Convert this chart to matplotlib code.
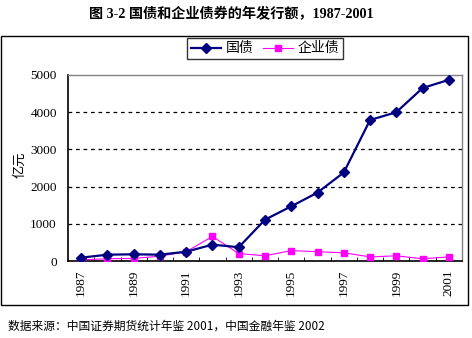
import matplotlib
matplotlib.use("Agg")
import matplotlib.pyplot as plt
from matplotlib.patches import Rectangle
import numpy as np

years = [str(y) for y in range(1987, 2002)]
gov_bonds = [90, 170, 180, 170, 250, 440, 370, 1110, 1470, 1840, 2380, 3790, 4000, 4650, 4870]
corp_bonds = [30, 60, 70, 130, 250, 660, 200, 140, 280, 250, 220, 110, 140, 60, 110]
yticks = [0, 1000, 2000, 3000, 4000, 5000]

title = "图 3-2 国债和企业债券的年发行额，1987-2001"
source = "数据来源：中国证券期货统计年鉴 2001，中国金融年鉴 2002"

W, H = 472, 338
fig = plt.figure(figsize=(W / 100, H / 100), dpi=100)
fig.patch.set_facecolor("white")

serif_cjk = ["Liberation Serif", "Noto Sans CJK SC"]
cjk = ["Noto Sans CJK SC", "DejaVu Sans"]

# outer chart frame
fig.patches.append(Rectangle((1 / W, 1 - 305 / H), 467 / W, 269 / H,
                             transform=fig.transFigure, fill=False,
                             edgecolor="black", linewidth=1.0))

ax = fig.add_axes([68 / W, 1 - 261 / H, (462 - 68) / W, (261 - 75) / H])
x = np.arange(len(years))
ax.plot(x, gov_bonds, color="#000080", linewidth=1.6, marker="D", markersize=5,
        label="国债", zorder=4)
ax.plot(x, corp_bonds, color="#FF00FF", linewidth=0.8, marker="s", markersize=4.5,
        label="企业债", zorder=3)

ax.set_xlim(-0.5, len(years) - 0.5)
ax.set_ylim(0, 5000)
ax.set_yticks(yticks)
ax.set_yticklabels([str(v) for v in yticks], family=serif_cjk, fontsize=9.5)
for v in yticks[1:-1]:
    ax.axhline(v, color="black", linestyle=(0, (3, 3)), linewidth=0.9, zorder=1)

ax.set_xticks(x[::2])
ax.set_xticklabels(years[::2], rotation=90, family=serif_cjk, fontsize=9.5)
ax.set_xticks(np.arange(0.5, len(years) - 1, 1), minor=True)
ax.tick_params(axis="x", which="major", length=0, pad=6)
ax.tick_params(axis="x", which="minor", direction="in", length=3, color="black")
ax.tick_params(axis="y", length=0, pad=8)

for s in ["left", "bottom"]:
    ax.spines[s].set_color("black")
    ax.spines[s].set_linewidth(1.2)
for s in ["top", "right"]:
    ax.spines[s].set_color("#808080")
    ax.spines[s].set_linewidth(1.0)

fig.text(20 / W, 1 - 165 / H, "亿元", rotation=90, ha="center", va="center",
         family=cjk, fontsize=9.5)

leg = ax.legend(loc="upper center", bbox_to_anchor=(0.5, 1.199), ncol=2,
                prop={"family": cjk, "size": 10}, frameon=True, fancybox=False,
                edgecolor="black", handlelength=2.2, columnspacing=0.7,
                handletextpad=0.3, borderpad=0.25, borderaxespad=0)
leg.get_frame().set_linewidth(1.0)

fig.text(231 / W, 1 - 14 / H, title, ha="center", va="center",
         family=serif_cjk, fontsize=10.2, fontweight="bold")
fig.text(8 / W, 1 - 326 / H, source, ha="left", va="center",
         family=cjk, fontsize=8.5)

fig.savefig("out.png", dpi=100)
